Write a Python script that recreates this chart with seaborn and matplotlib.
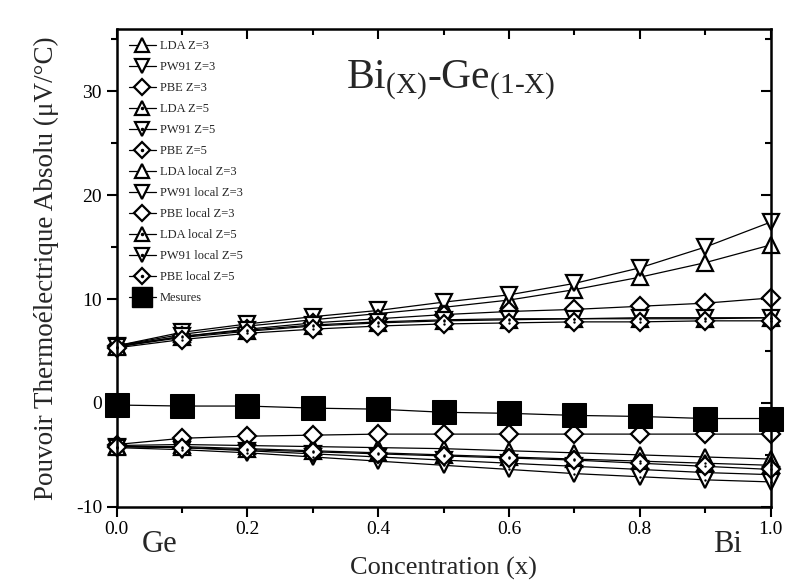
import numpy as np
import pandas as pd
import seaborn as sns
import matplotlib
matplotlib.use("Agg")
import matplotlib.pyplot as plt
from matplotlib.lines import Line2D

# ---------------- data ----------------
conc = [0.0, 0.1, 0.2, 0.3, 0.4, 0.5, 0.6, 0.7, 0.8, 0.9, 1.0]

lda_z3 = [5.5, 6.6, 7.4, 8.0, 8.6, 9.2, 9.9, 10.9, 12.1, 13.5, 15.2]
pw91_z3 = [5.5, 6.8, 7.6, 8.3, 8.9, 9.7, 10.4, 11.5, 13.0, 15.0, 17.4]
pbe_z3 = [5.5, 6.4, 7.1, 7.7, 8.1, 8.5, 8.8, 9.0, 9.3, 9.6, 10.1]
lda_z5 = [5.4, 6.3, 6.9, 7.4, 7.7, 7.9, 8.0, 8.1, 8.1, 8.1, 8.2]
pw91_z5 = [5.4, 6.4, 7.0, 7.5, 7.8, 8.0, 8.1, 8.1, 8.2, 8.2, 8.2]
pbe_z5 = [5.3, 6.1, 6.7, 7.1, 7.4, 7.6, 7.7, 7.8, 7.8, 7.9, 7.9]
lda_loc_z3 = [-4.1, -4.0, -4.1, -4.2, -4.3, -4.4, -4.6, -4.8, -5.0, -5.2, -5.4]
pw91_loc_z3 = [-4.2, -4.3, -4.6, -4.9, -5.2, -5.5, -5.8, -6.1, -6.4, -6.7, -6.9]
pbe_loc_z3 = [-4.0, -3.4, -3.2, -3.1, -3.0, -3.0, -3.0, -3.0, -3.0, -3.0, -3.0]
lda_loc_z5 = [-4.2, -4.2, -4.4, -4.6, -4.8, -5.0, -5.2, -5.4, -5.6, -5.8, -6.0]
pw91_loc_z5 = [-4.3, -4.5, -4.8, -5.2, -5.6, -6.0, -6.4, -6.8, -7.1, -7.4, -7.6]
pbe_loc_z5 = [-4.2, -4.3, -4.5, -4.7, -4.9, -5.1, -5.3, -5.5, -5.8, -6.1, -6.4]
mesures = [-0.2, -0.3, -0.3, -0.5, -0.6, -0.9, -1.0, -1.2, -1.3, -1.5, -1.5]

series_names = ["LDA Z=3", "PW91 Z=3", "PBE Z=3",
                "LDA Z=5", "PW91 Z=5", "PBE Z=5",
                "LDA local Z=3", "PW91 local Z=3", "PBE local Z=3",
                "LDA local Z=5", "PW91 local Z=5", "PBE local Z=5"]
series_values = [lda_z3, pw91_z3, pbe_z3, lda_z5, pw91_z5, pbe_z5,
                 lda_loc_z3, pw91_loc_z3, pbe_loc_z3,
                 lda_loc_z5, pw91_loc_z5, pbe_loc_z5]
dotted_series = ["LDA Z=5", "PW91 Z=5", "PBE Z=5",
                 "LDA local Z=5", "PW91 local Z=5", "PBE local Z=5"]

x_ticks = [0.0, 0.2, 0.4, 0.6, 0.8, 1.0]
y_ticks = [-10, 0, 10, 20, 30]

# ---------------- style ----------------
sns.set_style("ticks")
plt.rcParams["font.family"] = ["Liberation Serif", "DejaVu Serif"]
plt.rcParams["mathtext.fontset"] = "custom"
plt.rcParams["mathtext.rm"] = "Liberation Serif"
plt.rcParams["mathtext.it"] = "Liberation Serif:italic"

rows = []
for name, vals in zip(series_names, series_values):
    for c, v in zip(conc, vals):
        rows.append({"conc": c, "value": v, "series": name})
df = pd.DataFrame(rows)
df_mes = pd.DataFrame({"conc": conc, "value": mesures})

mk_for = {}
for n in series_names:
    if n.startswith("LDA"):
        mk_for[n] = "^"
    elif n.startswith("PW91"):
        mk_for[n] = "v"
    else:
        mk_for[n] = "D"
msize = {"^": 11, "v": 11, "D": 9}

fig = plt.figure(figsize=(7.88, 5.88), dpi=100)
ax = fig.add_axes([0.148, 0.138, 0.830, 0.813])

palette = {n: "black" for n in series_names}
sns.lineplot(data=df, x="conc", y="value", hue="series", style="series",
             hue_order=series_names, style_order=series_names,
             palette=palette, markers=mk_for, dashes=False,
             linewidth=0.9, legend=False, ax=ax, sort=False)
for line, name in zip(ax.lines, series_names):
    m = line.get_marker()
    line.set_markerfacecolor("white")
    line.set_markeredgecolor("black")
    line.set_markeredgewidth(1.6)
    line.set_markersize(msize.get(m, 10))
    line.set_clip_on(False)

# center dots for Z=5 series
df_dot = df[df["series"].isin(dotted_series)]
sc = sns.scatterplot(data=df_dot, x="conc", y="value", color="black", s=3,
                     linewidth=0, ax=ax, legend=False, zorder=5)
for coll in ax.collections:
    coll.set_clip_on(False)

# Mesures
sns.lineplot(data=df_mes, x="conc", y="value", color="black", marker="s",
             markersize=17, linewidth=0.9, ax=ax, legend=False)
ax.lines[-1].set_markerfacecolor("black")
ax.lines[-1].set_markeredgecolor("black")
ax.lines[-1].set_clip_on(False)

# ---------------- axes ----------------
ax.set_xlim(0.0, 1.0)
ax.set_ylim(-10, 36)
ax.set_xticks(x_ticks)
ax.set_xticklabels([f"{t:.1f}" for t in x_ticks])
ax.set_yticks(y_ticks)
ax.set_yticklabels([str(t) for t in y_ticks])
ax.set_xticks(np.arange(0.1, 1.0, 0.2), minor=True)
ax.set_yticks([-5, 5, 15, 25, 35], minor=True)
ax.tick_params(which="both", direction="out", width=1.5, labelsize=14,
               colors="black")
ax.tick_params(which="both", top=True, right=True)
ax.tick_params(which="major", length=7)
ax.tick_params(which="minor", length=4)
ax.tick_params(axis="x", pad=3)
# top and right ticks point inward
for t in ax.xaxis.get_major_ticks() + ax.xaxis.get_minor_ticks():
    t.tick2line.set_marker(3)  # TICKDOWN
for t in ax.yaxis.get_major_ticks() + ax.yaxis.get_minor_ticks():
    t.tick2line.set_marker(0)  # TICKLEFT
for s in ax.spines.values():
    s.set_linewidth(1.8)
    s.set_color("black")

ax.set_xlabel("Concentration (x)", fontsize=19, labelpad=14)
ax.set_ylabel("Pouvoir Thermo\u00e9lectrique Absolu (\u03bcV/\u00b0C)", fontsize=19.5,
              labelpad=12)

ax.text(0.51, 31.0, r"$\mathrm{Bi_{(X)}\text{-}Ge_{(1\text{-}X)}}$", fontsize=30,
        ha="center", va="center")
fig.text(160 / 788, 1 - 545 / 588, "Ge", fontsize=22, ha="center", va="center")
fig.text(727 / 788, 1 - 545 / 588, "Bi", fontsize=22, ha="center", va="center")

# ---------------- legend ----------------
handles = []
for name in series_names:
    m = mk_for[name]
    base = Line2D([], [], color="black", linewidth=0.9, marker=m,
                  markersize=msize[m] - 1, markerfacecolor="white",
                  markeredgecolor="black", markeredgewidth=1.6)
    if name in dotted_series:
        dot = Line2D([], [], linestyle="none", marker="o", markersize=1.5,
                     color="black")
        handles.append((base, dot))
    else:
        handles.append(base)
handles.append(Line2D([], [], color="black", linewidth=0.9, marker="s",
                      markersize=14, markerfacecolor="black",
                      markeredgecolor="black"))
labels = series_names + ["Mesures"]
ax.legend(handles, labels, loc="upper left", bbox_to_anchor=(0.005, 0.995),
          frameon=False, fontsize=9, handlelength=2.2, labelspacing=0.72,
          handletextpad=0.3, borderpad=0.2)

fig.savefig("out.png", dpi=100)
